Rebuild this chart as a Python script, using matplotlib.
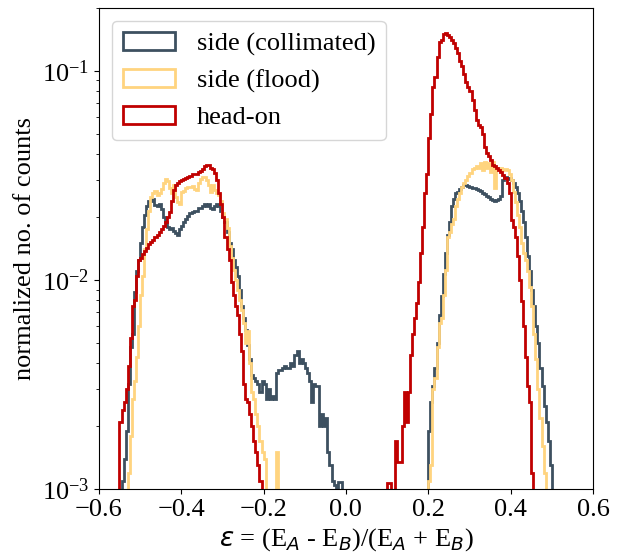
import numpy as np
import matplotlib
matplotlib.use('Agg')
import matplotlib.pyplot as plt

plt.rcParams['font.family'] = 'Liberation Serif'
plt.rcParams['font.size'] = 19

# histogram bins: width 0.005 from -0.6 to 0.6
bin_width = 0.005
edges = np.round(np.arange(-0.6, 0.6 + bin_width / 2, bin_width), 4)
centers = (edges[:-1] + edges[1:]) / 2

# side (collimated): values per bin, starting at the given left edge
coll_left_start = -0.545
coll_left = [0.0011, 0.0014, 0.0019, 0.0032, 0.0048, 0.0055, 0.0088, 0.0110, 0.0125, 0.0150,
             0.0180, 0.0205, 0.0225, 0.0238, 0.0240, 0.0243, 0.0228, 0.0226, 0.0230, 0.0218,
             0.0200, 0.0190, 0.0180, 0.0175, 0.0178, 0.0172, 0.0168, 0.0165, 0.0175, 0.0182,
             0.0190, 0.0195, 0.0202, 0.0210, 0.0212, 0.0215, 0.0214, 0.0222, 0.0220, 0.0225,
             0.0232, 0.0225, 0.0230, 0.0220, 0.0218, 0.0225, 0.0230, 0.0225, 0.0215, 0.0200,
             0.0190, 0.0170, 0.0150, 0.0140, 0.0125, 0.0115, 0.0105, 0.0090, 0.0075, 0.0066,
             0.0058, 0.0049, 0.0042, 0.0035, 0.0034, 0.0033, 0.0032, 0.0029, 0.0033, 0.0032,
             0.0027, 0.0030, 0.0027, 0.0028, 0.0027, 0.0036, 0.0037, 0.0037, 0.0038, 0.0039,
             0.0038, 0.0038, 0.0040, 0.0039, 0.0044, 0.0046, 0.0040, 0.0042, 0.0040, 0.0038,
             0.0036, 0.0033, 0.0026, 0.0032, 0.0031, 0.0031, 0.0020, 0.0023, 0.0020, 0.0022,
             0.0015, 0.0013, 0.0011, 0.00105, 0.0, 0.00108, 0.00108]
coll_right_start = 0.200
coll_right = [0.0019, 0.0026, 0.0031, 0.0038, 0.0050, 0.0068, 0.0084, 0.0107, 0.0135, 0.0165,
              0.0190, 0.0225, 0.0245, 0.0260, 0.0265, 0.0272, 0.0280, 0.0285, 0.0285, 0.0282,
              0.0280, 0.0276, 0.0275, 0.0272, 0.0270, 0.0268, 0.0262, 0.0258, 0.0252, 0.0250,
              0.0245, 0.0242, 0.0240, 0.0242, 0.0245, 0.0252, 0.0300, 0.0312, 0.0305, 0.0308,
              0.0302, 0.0290, 0.0280, 0.0262, 0.0240, 0.0215, 0.0190, 0.0160, 0.0130, 0.0110,
              0.0090, 0.0075, 0.0060, 0.0050, 0.0038, 0.0031, 0.0025, 0.0021, 0.0017, 0.0013]

# side (flood)
flood_left_start = -0.530
flood_left = [0.0012, 0.0018, 0.0027, 0.0033, 0.0043, 0.0060, 0.0085, 0.0105, 0.0140, 0.0175,
              0.0215, 0.0250, 0.0262, 0.0268, 0.0255, 0.0260, 0.0272, 0.0290, 0.0305, 0.0298,
              0.0275, 0.0260, 0.0285, 0.0250, 0.0235, 0.0230, 0.0265, 0.0268, 0.0275, 0.0280,
              0.0278, 0.0282, 0.0272, 0.0270, 0.0290, 0.0305, 0.0310, 0.0312, 0.0300, 0.0285,
              0.0265, 0.0285, 0.0270, 0.0262, 0.0255, 0.0240, 0.0210, 0.0195, 0.0178, 0.0145,
              0.0128, 0.0112, 0.0100, 0.0090, 0.0080, 0.0072, 0.0062, 0.0050, 0.0057, 0.0040,
              0.0029, 0.0027, 0.0023, 0.0020, 0.0017, 0.0015, 0.0014]
flood_spike_start = -0.170
flood_spike = [0.0015]
flood_right_start = 0.200
flood_right = [0.0011, 0.0013, 0.0030, 0.0034, 0.0048, 0.0062, 0.0066, 0.0085, 0.0112, 0.0160,
               0.0170, 0.0185, 0.0195, 0.0225, 0.0245, 0.0260, 0.0280, 0.0290, 0.0300, 0.0315,
               0.0325, 0.0340, 0.0345, 0.0350, 0.0345, 0.0362, 0.0335, 0.0365, 0.0342, 0.0362,
               0.0330, 0.0365, 0.0275, 0.0345, 0.0340, 0.0342, 0.0336, 0.0340, 0.0335, 0.0320,
               0.0300, 0.0265, 0.0235, 0.0205, 0.0180, 0.0150, 0.0135, 0.0125, 0.0110, 0.0093,
               0.0075, 0.0055, 0.0042, 0.0030, 0.0022, 0.0016, 0.0012]

# head-on
head_left_start = -0.550
head_left = [0.0021, 0.0024, 0.0026, 0.0030, 0.0039, 0.0053, 0.0075, 0.0080, 0.0104, 0.0125,
             0.0128, 0.0133, 0.0138, 0.0143, 0.0148, 0.0152, 0.0156, 0.0160, 0.0165, 0.0170,
             0.0176, 0.0182, 0.0190, 0.0200, 0.0212, 0.0240, 0.0270, 0.0285, 0.0292, 0.0296,
             0.0300, 0.0304, 0.0309, 0.0312, 0.0316, 0.0320, 0.0322, 0.0322, 0.0328, 0.0331,
             0.0338, 0.0350, 0.0356, 0.0355, 0.0345, 0.0340, 0.0325, 0.0300, 0.0262, 0.0230,
             0.0200, 0.0160, 0.0140, 0.0125, 0.0098, 0.0085, 0.0075, 0.0068, 0.0055, 0.0046,
             0.0032, 0.0027, 0.0026, 0.0023, 0.0020, 0.0017, 0.0015, 0.0013, 0.0011]
head_right_start = 0.100
head_right = [0.00107, 0.00107, 0.0, 0.0, 0.0017, 0.00135, 0.00135, 0.0020, 0.0029, 0.0021,
              0.0029, 0.0044, 0.0055, 0.0066, 0.0078, 0.0098, 0.0134, 0.0180, 0.0260, 0.0320,
              0.0480, 0.0620, 0.0840, 0.0940, 0.1170, 0.1380, 0.1400, 0.1510, 0.1520, 0.1490,
              0.1460, 0.1410, 0.1360, 0.1290, 0.1215, 0.1110, 0.1050, 0.0970, 0.0890, 0.0840,
              0.0800, 0.0730, 0.0650, 0.0580, 0.0550, 0.0540, 0.0500, 0.0435, 0.0404, 0.0390,
              0.0375, 0.0355, 0.0350, 0.0343, 0.0336, 0.0330, 0.0318, 0.0306, 0.0290, 0.0260,
              0.0194, 0.0180, 0.0161, 0.0131, 0.0100, 0.0079, 0.0060, 0.0043, 0.0031, 0.0026,
              0.0012]

labels = ['side (collimated)', 'side (flood)', 'head-on']
colors = ['#3d5060', '#ffd47f', '#c00000']


def fill_bins(*segments):
    """Put (start, values) segments into a full-length bin array."""
    out = np.zeros(len(centers))
    for start, vals in segments:
        i0 = int(round((start - edges[0]) / bin_width))
        out[i0:i0 + len(vals)] = vals
    return out


series = [
    fill_bins((coll_left_start, coll_left), (coll_right_start, coll_right)),
    fill_bins((flood_left_start, flood_left), (flood_spike_start, flood_spike),
              (flood_right_start, flood_right)),
    fill_bins((head_left_start, head_left), (head_right_start, head_right)),
]

fig = plt.figure(figsize=(6.18, 5.54), dpi=100)
ax = fig.add_axes([0.160, 0.117, 0.7995, 0.8686])

for vals, lab, col in zip(series, labels, colors):
    ax.hist(centers, bins=edges, weights=vals, histtype='step', log=True,
            color=col, lw=2, label=lab)

ax.set_xlim(-0.6, 0.6)
ax.set_ylim(1e-3, 0.2)
ax.set_xticks(np.arange(-0.6, 0.61, 0.2))
ax.set_xlabel(r'$\varepsilon$ = (E$_A$ - E$_B$)/(E$_A$ + E$_B$)')
ax.set_ylabel('normalized no. of counts')
ax.legend(loc='upper left')

fig.savefig('out.png', dpi=100)
